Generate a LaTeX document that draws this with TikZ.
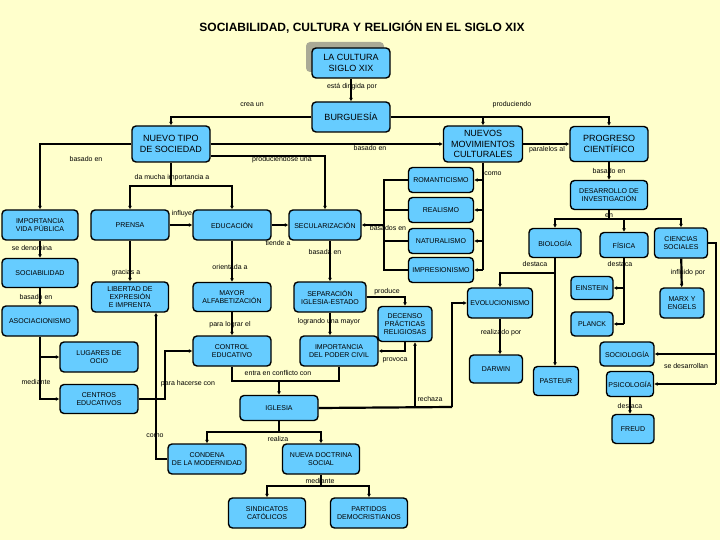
\documentclass[tikz,border=0pt]{standalone}
\usepackage{fontspec}
\setmainfont{Liberation Sans}
\usepackage{xcolor}
\usetikzlibrary{arrows.meta,calc}
\definecolor{fondo}{RGB}{255,255,204}
\definecolor{cajaazul}{RGB}{102,204,255}
\definecolor{sombra}{RGB}{170,170,150}
\begin{document}
\begin{tikzpicture}[x=1pt,y=-1pt]
\tikzset{concepto/.style 2 args={draw=black,line width=1.4pt,rounded corners=4pt,fill=cajaazul,align=center,inner sep=1pt,
    font=\fontsize{7}{8}\selectfont,minimum width=#1,minimum height=#2},
  grande/.style={font=\fontsize{9}{10.5}\selectfont},
  rotulo/.style={font=\fontsize{7}{8}\selectfont,inner sep=0.5pt},
  linea/.style={line width=2.2pt},
  flecha/.style={linea,-{Latex[length=3.5pt,width=4pt]}}}

\fill[fondo] (0,0) rectangle (720,540);
\useasboundingbox (0,0) rectangle (720,540);

\node[font=\bfseries\fontsize{12}{14}\selectfont] (titulo) at (362,27) {SOCIABILIDAD, CULTURA Y RELIGIÓN EN EL SIGLO XIX};

\fill[sombra,rounded corners=4pt] (306,42) rectangle (384,72);
\node[concepto={78pt}{30pt},grande] (cultura) at (351,63) {LA CULTURA\\SIGLO XIX};
\node[concepto={78pt}{30pt},grande] (burguesia) at (351,117) {BURGUESÍA};
\node[concepto={78pt}{36pt},grande] (nuevotipo) at (171,144) {NUEVO TIPO\\DE SOCIEDAD};
\node[concepto={79pt}{36pt},grande] (movimientos) at (483,144) {NUEVOS\\MOVIMIENTOS\\CULTURALES};
\node[concepto={78pt}{35pt},grande] (progreso) at (609,144) {PROGRESO\\CIENTÍFICO};

\node[concepto={76pt}{30pt}] (vidapublica) at (40,225) {IMPORTANCIA\\VIDA PÚBLICA};
\node[concepto={78pt}{30pt}] (prensa) at (130,225) {PRENSA};
\node[concepto={78pt}{30pt}] (educacion) at (232,225) {EDUCACIÓN};
\node[concepto={72pt}{30pt}] (secularizacion) at (325,225) {SECULARIZACIÓN};

\node[concepto={65pt}{25pt}] (romanticismo) at (441,180) {ROMANTICISMO};
\node[concepto={65pt}{25pt}] (realismo) at (441,210) {REALISMO};
\node[concepto={65pt}{25pt}] (naturalismo) at (441,241) {NATURALISMO};
\node[concepto={65pt}{25pt}] (impresionismo) at (441,270) {IMPRESIONISMO};

\node[concepto={77pt}{29pt}] (desarrollo) at (609,195) {DESARROLLO DE\\INVESTIGACIÓN};
\node[concepto={52pt}{29pt}] (biologia) at (555,243) {BIOLOGÍA};
\node[concepto={48pt}{25pt}] (fisica) at (624,245) {FÍSICA};
\node[concepto={53pt}{30pt}] (ciencias) at (681,243) {CIENCIAS\\SOCIALES};

\node[concepto={76pt}{29pt}] (sociabilidad) at (40,273) {SOCIABILIDAD};
\node[concepto={76pt}{30pt}] (asociacionismo) at (40,321) {ASOCIACIONISMO};
\node[concepto={78pt}{30pt}] (lugares) at (99,357) {LUGARES DE\\OCIO};
\node[concepto={78pt}{29pt}] (centros) at (99,399) {CENTROS\\EDUCATIVOS};

\node[concepto={77pt}{30pt}] (libertad) at (130,297) {LIBERTAD DE\\EXPRESIÓN\\E IMPRENTA};
\node[concepto={78pt}{29pt}] (alfabetizacion) at (232,297) {MAYOR\\ALFABETIZACIÓN};
\node[concepto={78pt}{30pt}] (control) at (232,351) {CONTROL\\EDUCATIVO};
\node[concepto={72pt}{30pt}] (separacion) at (330,297) {SEPARACIÓN\\IGLESIA-ESTADO};
\node[concepto={78pt}{30pt}] (podercivil) at (339,351) {IMPORTANCIA\\DEL PODER CIVIL};
\node[concepto={54pt}{35pt}] (decenso) at (405,324) {DECENSO\\PRÁCTICAS\\RELIGIOSAS};

\node[concepto={78pt}{25pt}] (iglesia) at (279,408) {IGLESIA};
\node[concepto={78pt}{30pt}] (condena) at (207,459) {CONDENA\\DE LA MODERNIDAD};
\node[concepto={77pt}{30pt}] (doctrina) at (321,459) {NUEVA DOCTRINA\\SOCIAL};
\node[concepto={77pt}{30pt}] (sindicatos) at (267,513) {SINDICATOS\\CATÓLICOS};
\node[concepto={77pt}{30pt}] (partidos) at (369,513) {PARTIDOS\\DEMOCRISTIANOS};

\node[concepto={65pt}{30pt}] (evolucionismo) at (500,303) {EVOLUCIONISMO};
\node[concepto={53pt}{28pt}] (darwin) at (496,369) {DARWIN};
\node[concepto={45pt}{29pt}] (pasteur) at (556,381) {PASTEUR};
\node[concepto={42pt}{23pt}] (einstein) at (592,288) {EINSTEIN};
\node[concepto={42pt}{24pt}] (planck) at (592,324) {PLANCK};
\node[concepto={44pt}{30pt}] (marx) at (682,303) {MARX Y\\ENGELS};
\node[concepto={54pt}{24pt}] (sociologia) at (627,354) {SOCIOLOGÍA};
\node[concepto={47pt}{25pt}] (psicologia) at (630,384) {PSICOLOGÍA};
\node[concepto={42pt}{29pt}] (freud) at (633,429) {FREUD};

\coordinate (dmi) at (171,186);
\coordinate (bas) at (384,225);
\coordinate (en) at (609,219);
\coordinate (phc) at (165,399);
\coordinate (conf) at (279,381);
\coordinate (rech) at (452,407);
\coordinate (real) at (279,432);
\coordinate (med) at (321,486);
\coordinate (dbio) at (555,273);
\coordinate (sedes) at (716,384);

\draw[flecha] (cultura) -- (burguesia);
\draw[flecha] (burguesia.west) -| (nuevotipo.north);
\draw[flecha] (burguesia.east) -| (movimientos.north);
\draw[flecha] (burguesia.east) -| (progreso.north);
\draw[flecha] (nuevotipo.west) -| (vidapublica.north);
\draw[flecha] (nuevotipo.east) -- (movimientos.west);
\draw[flecha] ([yshift=-12pt]nuevotipo.east) -| (secularizacion.north);
\draw[linea] (nuevotipo) -- (dmi);
\draw[flecha] (dmi) -| (prensa);
\draw[flecha] (dmi) -| (educacion);
\draw[flecha] (movimientos) -- (progreso);
\draw[linea] (movimientos) -- (movimientos.south |- impresionismo.east);
\foreach \m in {romanticismo,realismo,naturalismo,impresionismo}{
  \draw[flecha] (movimientos.south |- \m.east) -- (\m.east);
  \draw[linea] (\m.west) -| (bas);
}
\draw[flecha] (bas) -- (secularizacion.east);
\draw[flecha] (progreso) -- (desarrollo);
\draw[linea] (desarrollo) -- (en);
\draw[flecha] (en) -| (biologia);
\draw[flecha] (en) -| (fisica);
\draw[flecha] (en) -| (ciencias);
\draw[flecha] (prensa) -- (educacion);
\draw[flecha] (educacion) -- (secularizacion);
\draw[flecha] (vidapublica) -- (sociabilidad);
\draw[flecha] (sociabilidad) -- (asociacionismo);
\draw[flecha] (asociacionismo.south) |- (centros.west);
\draw[flecha] (asociacionismo.south |- lugares.west) -- (lugares.west);
\draw[flecha] (prensa) -- (libertad);
\draw[flecha] (educacion) -- (alfabetizacion);
\draw[flecha] (alfabetizacion) -- (control);
\draw[flecha] (centros.east) -- (phc) |- (control.west);
\draw[flecha] (condena.west) -| ([xshift=26pt]libertad.south);
\draw[flecha] (separacion.north |- secularizacion.south) -- (separacion.north);
\draw[flecha] (separacion) -- (separacion |- podercivil.north);
\draw[flecha] (separacion.east) -| (decenso.north);
\draw[flecha] (decenso.south) |- (podercivil.east);
\draw[linea] (control.south) |- (conf);
\draw[linea] (podercivil.south) |- (conf);
\draw[flecha] (conf) -- (iglesia.north);
\draw[linea] (iglesia.east) -- (rech);
\draw[flecha] (rech) |- (evolucionismo.west);
\draw[flecha] ([xshift=10pt]decenso.south |- iglesia.east) -- ([xshift=10pt]decenso.south);
\draw[linea] (iglesia) -- (real);
\draw[flecha] (real) -| (condena);
\draw[flecha] (real) -| (doctrina);
\draw[linea] (doctrina) -- (med);
\draw[flecha] (med) -| (sindicatos);
\draw[flecha] (med) -| (partidos);
\draw[flecha] (biologia.south) -- (biologia.south |- pasteur.north);
\draw[flecha] (dbio) -| (evolucionismo);
\draw[flecha] (evolucionismo.south) -- (evolucionismo.south |- darwin.north);
\draw[linea] (fisica.south) -- (fisica.south |- planck.east);
\draw[flecha] (fisica.south |- einstein.east) -- (einstein.east);
\draw[flecha] (fisica.south |- planck.east) -- (planck.east);
\draw[flecha] (ciencias) -- (marx);
\draw[linea] (ciencias.east) -| (sedes);
\draw[flecha] (sedes |- sociologia.east) -- (sociologia.east);
\draw[flecha] (sedes) -- (psicologia.east);
\draw[flecha] (psicologia.south) -- (psicologia.south |- freud.north);

\node[rotulo] (r1) at (352,87) {está dirigida por};
\node[rotulo] (r2) at (252,105) {crea un};
\node[rotulo] (r3) at (512,105) {produciendo};
\node[rotulo] (r4) at (86,159) {basado en};
\node[rotulo] (r5) at (370,148) {basado en};
\node[rotulo] (r6) at (282,160) {produciendose una};
\node[rotulo] (r7) at (547,150) {paralelos al};
\node[rotulo] (r8) at (172,178) {da mucha importancia a};
\node[rotulo] (r9) at (493,174) {como};
\node[rotulo] (r10) at (609,171) {basado en};
\node[rotulo] (r11) at (182,214) {influye};
\node[rotulo] (r12) at (609,216) {en};
\node[rotulo] (r13) at (278,243) {tiende a};
\node[rotulo] (r14) at (388,228) {basados en};
\node[rotulo] (r15) at (32,248) {se denomina};
\node[rotulo] (r16) at (325,252) {basada en};
\node[rotulo] (r17) at (535,264) {destaca};
\node[rotulo] (r18) at (620,264) {destaca};
\node[rotulo] (r19) at (230,267) {orientada a};
\node[rotulo] (r20) at (126,273) {gracias a};
\node[rotulo] (r21) at (688,273) {influido por};
\node[rotulo] (r22) at (387,292) {produce};
\node[rotulo] (r23) at (36,297) {basado en};
\node[rotulo] (r24) at (230,325) {para lograr el};
\node[rotulo] (r25) at (329,322) {logrando una mayor};
\node[rotulo] (r26) at (501,333) {realizado por};
\node[rotulo] (r27) at (395,360) {provoca};
\node[rotulo] (r28) at (686,366) {se desarrollan};
\node[rotulo] (r29) at (278,373) {entra en conflicto con};
\node[rotulo] (r30) at (36,382) {mediante};
\node[rotulo] (r31) at (188,384) {para hacerse con};
\node[rotulo] (r32) at (430,399) {rechaza};
\node[rotulo] (r33) at (630,406) {destaca};
\node[rotulo] (r34) at (155,436) {como};
\node[rotulo] (r35) at (278,439) {realiza};
\node[rotulo] (r36) at (320,481) {mediante};
\end{tikzpicture}
\end{document}
